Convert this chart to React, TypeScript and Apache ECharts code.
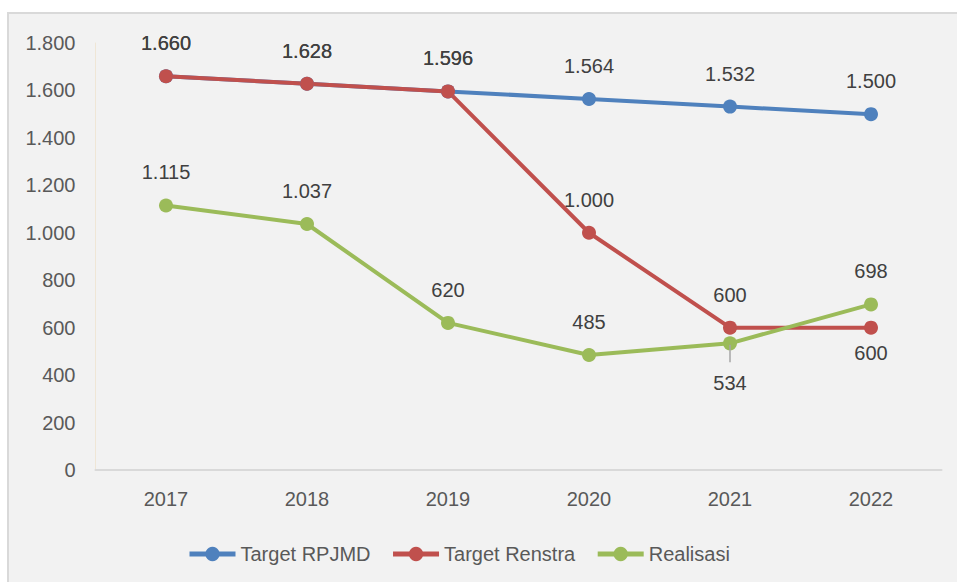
import React, { useEffect, useRef } from "react";
import * as echarts from "echarts";

const categories = ["2017", "2018", "2019", "2020", "2021", "2022"];
const targetRPJMD = [1660, 1628, 1596, 1564, 1532, 1500];
const targetRenstra = [1660, 1628, 1596, 1000, 600, 600];
const realisasi = [1115, 1037, 620, 485, 534, 698];
const seriesNames = ["Target RPJMD", "Target Renstra", "Realisasi"];

const FONT = "'Liberation Sans', Arial, sans-serif";
const fmt = (v: number) => String(Math.round(v)).replace(/\B(?=(\d{3})+(?!\d))/g, ".");

export default function App() {
  const ref = useRef<HTMLDivElement>(null);
  useEffect(() => {
    if (!ref.current) return;
    const chart = echarts.init(ref.current, undefined, { renderer: "svg" });
    const labelBase = {
      show: true,
      position: "top" as const,
      distance: 16,
      fontSize: 20,
      fontFamily: FONT,
      color: "#404040",
      formatter: (p: any) => fmt(p.value),
    };
    const mk = (name: string, data: number[], color: string, belowIdx: number[] = []) => ({
      name,
      type: "line",
      data: data.map((v, i) =>
        belowIdx.includes(i)
          ? { value: v, label: { position: "bottom", distance: 8 } }
          : v
      ),
      symbol: "circle",
      symbolSize: 14,
      itemStyle: { color },
      lineStyle: { color, width: 4 },
      label: labelBase,
    });
    const renstra: any = mk(seriesNames[1], targetRenstra, "#c0504d", [5]);
    const real: any = mk(seriesNames[2], realisasi, "#9bbb59");
    real.data[4] = { value: realisasi[4], label: { position: "bottom", distance: 23 } };
    real.markLine = {
      silent: true,
      symbol: "none",
      label: { show: false },
      lineStyle: { color: "#a6a6a6", width: 1.5, type: "solid" },
      data: [[{ coord: ["2021", realisasi[4] - 6] }, { coord: ["2021", realisasi[4] - 80] }]],
    };
    chart.setOption({
      animation: false,
      backgroundColor: "#ffffff",
      textStyle: { fontFamily: FONT },
      graphic: [
        {
          type: "rect",
          z: -10,
          shape: { x: 8, y: 13, width: 960, height: 580 },
          style: { fill: "#f2f2f2", stroke: "#d9d9d9", lineWidth: 2 },
        },
      ],
      grid: { left: 95.5, right: 15.5, top: 43, bottom: 112 },
      legend: {
        left: 182,
        top: 539,
        itemWidth: 46,
        itemHeight: 18,
        itemGap: 20,
        lineStyle: { width: 5 },
        textStyle: { fontSize: 20, color: "#595959", fontFamily: FONT },
        data: seriesNames,
      },
      xAxis: {
        type: "category",
        data: categories,
        boundaryGap: true,
        axisLine: { show: true, lineStyle: { color: "#d9d9d9", width: 2 } },
        axisTick: { show: false },
        axisLabel: { color: "#595959", fontSize: 20, margin: 19, fontFamily: FONT },
        splitLine: { show: false },
      },
      yAxis: {
        type: "value",
        min: 0,
        max: 1800,
        interval: 200,
        axisLine: { show: true, lineStyle: { color: "#efe6d6", width: 1 } },
        axisTick: { show: false },
        axisLabel: {
          color: "#595959",
          fontSize: 20,
          margin: 20,
          fontFamily: FONT,
          formatter: (v: number) => fmt(v),
        },
        splitLine: { show: false },
      },
      series: [mk(seriesNames[0], targetRPJMD, "#4f81bd"), renstra, real],
    });
    return () => chart.dispose();
  }, []);
  return (
    <div
      ref={ref}
      style={{ position: "absolute", left: 0, top: 0, width: 957, height: 582 }}
    />
  );
}
